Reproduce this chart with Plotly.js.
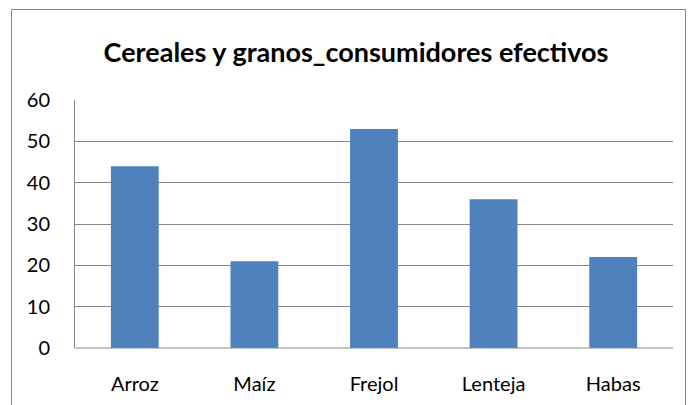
<!DOCTYPE html>
<html><head><meta charset="utf-8">
<script src="https://cdn.plot.ly/plotly-3.0.1.min.js"></script>
<style>body{margin:0;background:#fff}#c{width:690px;height:405px}</style>
</head><body><div id="c"></div>
<script>
const categories = ["Arroz", "Maíz", "Frejol", "Lenteja", "Habas"];
const values = [44, 21, 53, 36, 22];
const yTicks = [0, 10, 20, 30, 40, 50, 60];

const trace = {
  type: 'bar', x: categories, y: values,
  marker: {color: '#4F81BD'}, width: 0.4, hoverinfo: 'none'
};
const layout = {
  width: 690, height: 405,
  margin: {l: 75, r: 17, t: 100, b: 57},
  paper_bgcolor: '#fff', plot_bgcolor: '#fff',
  font: {family: 'Lato, "Open Sans", sans-serif', size: 20, color: '#000'},
  title: {text: '<b>Cereales y granos_consumidores efectivos</b>',
    font: {family: 'Lato, "Open Sans", sans-serif', size: 27, color: '#000'},
    x: 0.516, xanchor: 'center', y: 0.87, yanchor: 'middle'},
  showlegend: false,
  xaxis: {showgrid: false, showline: false, zeroline: false,
    ticks: 'outside', ticklen: 18, tickcolor: 'rgba(0,0,0,0)', fixedrange: true},
  yaxis: {range: [0, 60], tickvals: yTicks, showgrid: true, gridcolor: '#878787', gridwidth: 1,
    showline: true, linecolor: '#878787', linewidth: 1, zeroline: false,
    ticks: 'outside', ticklen: 20, tickcolor: 'rgba(0,0,0,0)', fixedrange: true},
  shapes: [{type: 'rect', xref: 'paper', yref: 'paper',
    x0: (11.5-75)/598, x1: (685.5-75)/598, y0: (348-420)/248, y1: (348-9.5)/248,
    line: {color: '#868686', width: 1}, fillcolor: 'rgba(0,0,0,0)', layer: 'below'},
    {type: 'line', xref: 'paper', yref: 'paper', x0: 0, x1: 1, y0: 0, y1: 0,
    line: {color: '#878787', width: 1}}]
};
Plotly.newPlot('c', [trace], layout, {displayModeBar: false, staticPlot: true});
</script></body></html>
